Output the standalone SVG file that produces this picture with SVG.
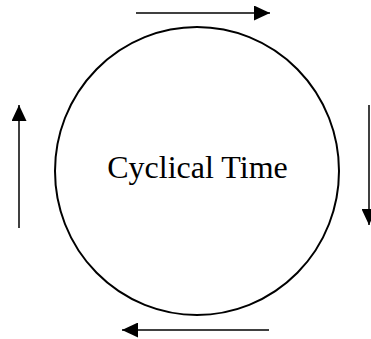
<svg xmlns="http://www.w3.org/2000/svg" width="371" height="339" viewBox="0 0 371 339">
<style>
.conn{stroke:#000;stroke-width:1.5;fill:none}
.node{fill:#fff;stroke:#000;stroke-width:2}
.lbl{font-family:"Liberation Serif","Times New Roman",serif;font-size:32px;fill:#000}
</style>
<defs>
<marker id="ah" markerUnits="userSpaceOnUse" markerWidth="16" markerHeight="15" refX="16" refY="7.5" orient="auto">
<path d="M0,0 L16,7.5 L0,15 Z" fill="#000"/>
</marker>
</defs>
<rect width="371" height="339" fill="#fff"/>
<g id="cycle">
<ellipse class="node" cx="197" cy="171" rx="142" ry="144"/>
<text class="lbl" x="197.5" y="178" text-anchor="middle">Cyclical Time</text>
</g>
<g id="connectors">
<line class="conn" x1="136" y1="13" x2="270" y2="13" marker-end="url(#ah)"/>
<line class="conn" x1="369" y1="105" x2="369" y2="225" marker-end="url(#ah)"/>
<line class="conn" x1="269" y1="330" x2="122" y2="330" marker-end="url(#ah)"/>
<line class="conn" x1="19" y1="228" x2="19" y2="105" marker-end="url(#ah)"/>
</g>
</svg>
